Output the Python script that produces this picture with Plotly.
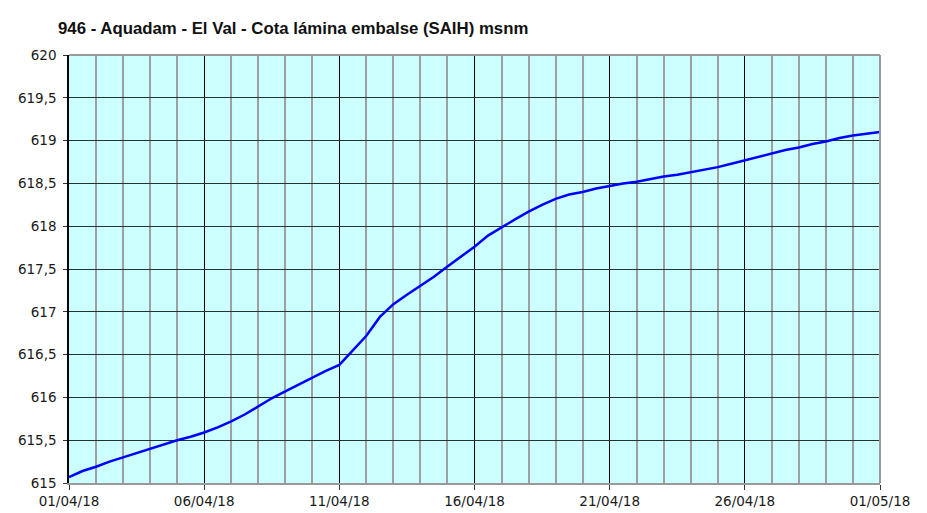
import pandas as pd
import plotly.graph_objects as go

# reservoir level readings every 12 h, 01/04/18 00:00 -> 01/05/18 00:00
start = "2018-04-01"
level_msnm = [
    615.07, 615.14, 615.19, 615.25, 615.30, 615.35, 615.40, 615.45,
    615.50, 615.54, 615.59, 615.65, 615.72, 615.80, 615.90, 615.99,
    616.07, 616.15, 616.23, 616.31, 616.38, 616.55, 616.72, 616.94,
    617.09, 617.20, 617.30, 617.41, 617.53, 617.64, 617.76, 617.89,
    617.99, 618.08, 618.17, 618.25, 618.32, 618.37, 618.40, 618.44,
    618.47, 618.50, 618.52, 618.55, 618.58, 618.60, 618.63, 618.66,
    618.69, 618.73, 618.77, 618.81, 618.85, 618.89, 618.92, 618.96,
    618.99, 619.03, 619.06, 619.08, 619.10,
]
times = pd.date_range(start, periods=len(level_msnm), freq="12h")

title = "946 - Aquadam - El Val - Cota lámina embalse (SAIH) msnm"
y_range = [615, 620]
x_range = ["2018-04-01", "2018-05-01"]

DAY_MS = 86400000
# the page body adds an 8 px margin, so the figure is drawn 8 px smaller
W, H = 919, 505
tick_font = dict(family="DejaVu Sans", size=13.5, color="#1a1a1a")

fig = go.Figure(
    go.Scatter(
        x=times,
        y=level_msnm,
        mode="lines",
        line=dict(color="#0000ff", width=2.5),
        hoverinfo="x+y",
    )
)

fig.update_layout(
    width=W,
    height=H,
    paper_bgcolor="#ffffff",
    plot_bgcolor="#ccffff",
    margin=dict(l=61, r=47, t=47, b=30, autoexpand=False),
    separators=",.",
    showlegend=False,
    title=dict(
        text=title,
        font=dict(family="Liberation Sans", size=16.8, color="#111111", weight="bold"),
        x=50 / W,
        xref="container",
        xanchor="left",
        y=1 - 20 / H,
        yref="container",
        yanchor="middle",
    ),
)

fig.update_xaxes(
    type="date",
    range=x_range,
    tick0=x_range[0],
    dtick=5 * DAY_MS,
    tickformat="%d/%m/%y",
    tickfont=tick_font,
    ticks="outside",
    ticklen=5,
    tickcolor="#333333",
    showgrid=True,
    gridcolor="#000000",
    gridwidth=1,
    showline=True,
    linecolor="#999999",
    linewidth=2,
    zeroline=False,
    automargin=False,
    minor=dict(dtick=DAY_MS, showgrid=True, gridcolor="#a0a0a0", gridwidth=1.5, ticks=""),
    fixedrange=True,
)

fig.update_yaxes(
    range=y_range,
    dtick=0.5,
    tick0=615,
    tickformat=".1~f",
    tickfont=tick_font,
    ticks="outside",
    ticklen=4,
    tickcolor="#333333",
    ticklabelstandoff=4,
    showgrid=True,
    gridcolor="#223333",
    gridwidth=1.2,
    showline=True,
    linecolor="#000000",
    linewidth=1.5,
    zeroline=False,
    automargin=False,
    fixedrange=True,
)

# grey frame on top and right of the plot area
fig.add_shape(
    type="line", xref="x domain", yref="y domain",
    x0=0, x1=1, y0=1, y1=1, line=dict(color="#999999", width=2),
)
fig.add_shape(
    type="line", xref="x domain", yref="y domain",
    x0=1, x1=1, y0=0, y1=1, line=dict(color="#999999", width=2),
)

fig.write_html("out.html")
